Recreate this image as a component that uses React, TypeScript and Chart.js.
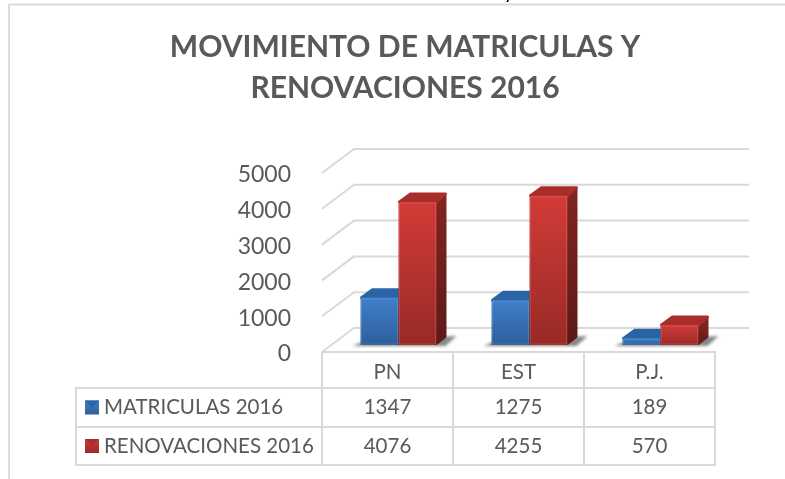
import React, { useEffect, useRef } from "react";
import { Chart, registerables } from "chart.js";

Chart.register(...registerables);

const categories = ["PN", "EST", "P.J."];
const matriculas = [1347, 1275, 189];
const renovaciones = [4076, 4255, 570];
const seriesNames = ["MATRICULAS 2016", "RENOVACIONES 2016"];
const titleLines = ["MOVIMIENTO DE MATRICULAS Y", "RENOVACIONES 2016"];

const FONT = "Lato, 'Open Sans', sans-serif";
const TEXT = "#595959";
const GRID = "#d9d9d9";
const DEPTH_X = 32;
const DEPTH_Y = 24;
const BAR_DX = 11;
const BAR_DY = 10;
const OFFSET_X = 11;
const OFFSET_Y = 7;
const HEIGHT_FACTOR = 0.98;

const palettes = [
  { light: "#3f7fca", dark: "#2f5e9a", top: "#2a64a6", side: "#1f4675", sideDark: "#17355a" },
  { light: "#d23b37", dark: "#982a26", top: "#a92d2a", side: "#7f2421", sideDark: "#5c1a18" },
];

function line(ctx: CanvasRenderingContext2D, x0: number, y0: number, x1: number, y1: number) {
  ctx.beginPath();
  ctx.moveTo(x0, y0);
  ctx.lineTo(x1, y1);
  ctx.stroke();
}

function poly(ctx: CanvasRenderingContext2D, pts: number[][], fill: string | CanvasGradient, round = 0) {
  ctx.beginPath();
  pts.forEach(([x, y], i) => (i ? ctx.lineTo(x, y) : ctx.moveTo(x, y)));
  ctx.closePath();
  ctx.fillStyle = fill;
  ctx.fill();
  if (round) {
    ctx.strokeStyle = fill;
    ctx.lineWidth = round;
    ctx.lineJoin = "round";
    ctx.stroke();
  }
}

const frame3d = {
  id: "frame3d",
  beforeDatasetsDraw(chart: any) {
    const { ctx, scales, chartArea } = chart;
    ctx.save();
    ctx.strokeStyle = "#dcdcdc";
    ctx.lineWidth = 2;
    // chart frame
    line(ctx, 9, 4.5, 785, 4.5);
    line(ctx, 9, 4, 9, 479);
    // stray clipped text from the page above the chart
    ctx.fillStyle = "#000000";
    ctx.font = `20px ${FONT}`;
    ctx.textAlign = "center";
    ctx.textBaseline = "alphabetic";
    ctx.save();
    ctx.beginPath();
    ctx.rect(0, 0, 785, 4);
    ctx.clip();
    ctx.fillText("y", 509, -1);
    ctx.restore();
    // walls
    ctx.strokeStyle = GRID;
    ctx.lineWidth = 2;
    scales.y.ticks.forEach((t: any) => {
      const y = scales.y.getPixelForValue(t.value);
      line(ctx, chartArea.left, y, chartArea.left + DEPTH_X, y - DEPTH_Y);
      line(ctx, chartArea.left + DEPTH_X - 1, y - DEPTH_Y, chartArea.right + DEPTH_X + 2, y - DEPTH_Y);
    });
    ctx.restore();
  },
  afterDatasetsDraw(chart: any) {
    const { ctx, scales, chartArea, data } = chart;
    const metas = [chart.getDatasetMeta(0), chart.getDatasetMeta(1)];
    ctx.save();
    // floor shadow
    categories.forEach((_, i) => {
      const a = metas[0].data[i];
      const b = metas[1].data[i];
      const base = a.base - OFFSET_Y;
      const left = a.x - a.width / 2 + OFFSET_X;
      const right = b.x + b.width / 2 + OFFSET_X;
      ctx.save();
      ctx.filter = "blur(1.5px)";
      poly(ctx, [[left - 8, base + 1], [left + 4, base - 4], [right + 20, base - 9], [right + 9, base + 1]], "rgba(70,70,70,0.65)");
      ctx.restore();
    });
    // bars
    [0, 1].forEach((s) => {
      const p = palettes[s];
      metas[s].data.forEach((el: any) => {
        const x0 = el.x - el.width / 2 + OFFSET_X;
        const x1 = el.x + el.width / 2 + OFFSET_X;
        const yb = el.base - OFFSET_Y;
        const yt = yb - (el.base - el.y) * HEIGHT_FACTOR;
        const vert = ctx.createLinearGradient(0, yt, 0, yb);
        vert.addColorStop(0, p.light);
        vert.addColorStop(1, p.dark);
        const sideG = ctx.createLinearGradient(0, yt, 0, yb);
        sideG.addColorStop(0, p.side);
        sideG.addColorStop(1, p.sideDark);
        poly(ctx, [[x1, yb - 1], [x1, yt], [x1 + BAR_DX - 2, yt - BAR_DY + 2], [x1 + BAR_DX - 2, yb - BAR_DY + 2]], sideG, 2);
        poly(ctx, [[x0 + 1, yt], [x0 + BAR_DX + 1, yt - BAR_DY + 2], [x1 + BAR_DX - 2, yt - BAR_DY + 2], [x1, yt]], p.top, 3);
        ctx.fillStyle = vert;
        ctx.fillRect(x0, yt, x1 - x0, yb - yt);
        ctx.strokeStyle = "rgba(255,255,255,0.12)";
        ctx.lineWidth = 1;
        ctx.strokeRect(x0 + 1, yt + 1, x1 - x0 - 2, yb - yt - 2);
      });
    });
    // data table
    const rows = [352, 388, 427, 465];
    const tableLeft = 76;
    ctx.strokeStyle = GRID;
    ctx.lineWidth = 2;
    ctx.lineJoin = "miter";
    line(ctx, chartArea.left, chartArea.bottom, chartArea.right + 1, chartArea.bottom);
    rows.slice(1).forEach((y) => line(ctx, tableLeft - 1, y, chartArea.right + 1, y));
    line(ctx, tableLeft, rows[1], tableLeft, rows[3]);
    const ticks = categories.map((_, i) => scales.x.getPixelForValue(i));
    const half = (ticks[1] - ticks[0]) / 2;
    line(ctx, ticks[0] - half, rows[0], ticks[0] - half, rows[3]);
    ticks.forEach((t) => line(ctx, t + half, rows[0], t + half, rows[3]));
    ctx.font = `20.5px ${FONT}`;
    ctx.textBaseline = "middle";
    data.datasets.forEach((ds: any, s: number) => {
      const cy = (rows[s + 1] + rows[s + 2]) / 2;
      const p = palettes[s];
      const g = ctx.createLinearGradient(0, cy - 7, 0, cy + 7);
      g.addColorStop(0, p.light);
      g.addColorStop(1, p.dark);
      ctx.fillStyle = g;
      ctx.fillRect(85, cy - 7, 14, 14);
      poly(ctx, [[85, cy - 7], [99, cy - 7], [92, cy]], p.top);
      ctx.fillStyle = TEXT;
      ctx.textAlign = "left";
      ctx.fillText(ds.label, 104, cy);
      ctx.textAlign = "center";
      ds.data.forEach((v: number, i: number) => ctx.fillText(String(v), ticks[i], cy));
    });
    ctx.restore();
  },
};

export default function App() {
  const ref = useRef<HTMLCanvasElement>(null);
  useEffect(() => {
    const chart = new Chart(ref.current as HTMLCanvasElement, {
      type: "bar",
      data: {
        labels: categories,
        datasets: [
          { label: seriesNames[0], data: matriculas, backgroundColor: "transparent" },
          { label: seriesNames[1], data: renovaciones, backgroundColor: "transparent" },
        ],
      },
      options: {
        responsive: false,
        animation: false,
        layout: { padding: { left: 25, right: 0, top: 0, bottom: 0 } },
        datasets: { bar: { categoryPercentage: 0.58, barPercentage: 1 } },
        plugins: {
          legend: { display: false },
          tooltip: { enabled: false },
          title: {
            display: true,
            text: titleLines,
            color: TEXT,
            font: { family: FONT, size: 30, weight: "bold", lineHeight: 41 / 30 },
            padding: { top: 26.5, bottom: 64.5 },
          },
        },
        scales: {
          x: {
            grid: { display: false },
            border: { display: false },
            ticks: { color: TEXT, font: { family: FONT, size: 20.5 }, padding: 0, maxRotation: 0 },
            afterFit: (s: any) => { s.height = 127; },
          },
          y: {
            min: 0,
            max: 5000,
            grid: { display: false },
            border: { display: false },
            ticks: {
              stepSize: 1000,
              color: TEXT,
              font: { family: FONT, size: 23 },
              padding: 23,
              labelOffset: 2,
              callback: (v: any) => String(v),
            },
            afterFit: (s: any) => { s.width = 297; },
          },
          yRight: {
            position: "right",
            display: true,
            min: 0,
            max: 1,
            grid: { display: false },
            border: { display: false },
            ticks: { display: false },
            afterFit: (s: any) => { s.width = 70; },
          },
        },
      } as any,
      plugins: [frame3d],
    });
    return () => chart.destroy();
  }, []);
  return (
    <div style={{ position: "fixed", left: 0, top: 0, width: 785, height: 479, background: "#fff" }}>
      <canvas ref={ref} width={785} height={479} style={{ display: "block", filter: "blur(0.35px)" }} />
    </div>
  );
}
